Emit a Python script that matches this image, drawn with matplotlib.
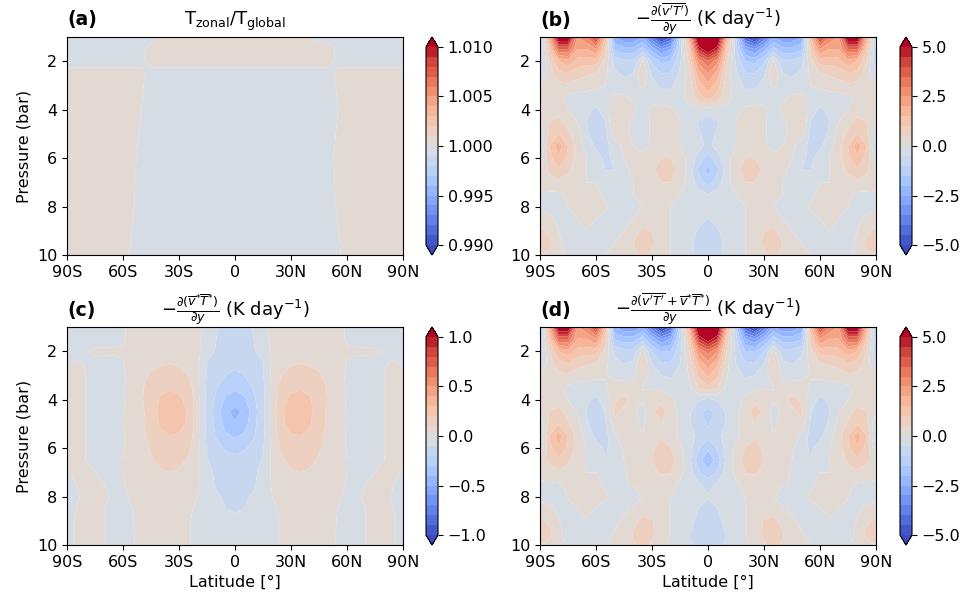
import numpy as np
import matplotlib
matplotlib.use('Agg')
import matplotlib.pyplot as plt
from matplotlib.ticker import FormatStrFormatter

# grid (latitude in degrees, pressure in bar)
lat = np.arange(-90, 91, 5)
pressure = np.array([1.0, 1.5, 2.0, 2.5, 3.0, 3.5, 4.0, 4.5, 5.0, 5.5,
                     6.0, 6.5, 7.0, 7.5, 8.0, 8.5, 9.0, 9.5, 10.0])
ratio_pressure = np.array([1.0, 1.5, 2.0, 2.5, 4.0, 6.0, 8.0, 10.0])

lat_ticks = [-90, -60, -30, 0, 30, 60, 90]
lat_labels = ['90S', '60S', '30S', '0', '30N', '60N', '90N']
p_ticks = [2, 4, 6, 8, 10]

# (a) T_zonal / T_global
t_ratio = np.array([
    [0.9996, 0.9996, 0.9996, 0.9996, 0.9996, 0.9996, 0.9996, 0.9996, 0.9996, 0.9996, 1.0002, 1.0004, 1.0004, 1.0004, 1.0004, 1.0004, 1.0004, 1.0004, 1.0004, 1.0004, 1.0004, 1.0004, 1.0004, 1.0004, 1.0004, 1.0004, 1.0002, 0.9996, 0.9996, 0.9996, 0.9996, 0.9996, 0.9996, 0.9996, 0.9996, 0.9996, 0.9996],
    [0.9996, 0.9996, 0.9996, 0.9996, 0.9996, 0.9996, 0.9996, 0.9996, 0.9998, 1.0004, 1.0004, 1.0004, 1.0004, 1.0004, 1.0004, 1.0004, 1.0004, 1.0004, 1.0004, 1.0004, 1.0004, 1.0004, 1.0004, 1.0004, 1.0004, 1.0004, 1.0004, 1.0004, 1.0004, 0.9998, 0.9996, 0.9996, 0.9996, 0.9996, 0.9996, 0.9996, 0.9996],
    [0.9996, 0.9996, 0.9996, 0.9996, 0.9996, 0.9996, 0.9996, 0.9996, 0.9998, 1.0004, 1.0004, 1.0004, 1.0004, 1.0004, 1.0004, 1.0004, 1.0004, 1.0004, 1.0004, 1.0004, 1.0004, 1.0004, 1.0004, 1.0004, 1.0004, 1.0004, 1.0004, 1.0004, 1.0004, 0.9998, 0.9996, 0.9996, 0.9996, 0.9996, 0.9996, 0.9996, 0.9996],
    [1.0004, 1.0004, 1.0004, 1.0004, 1.0004, 1.0004, 1.0004, 1.0004, 1.0002, 0.9996, 0.9996, 0.9996, 0.9996, 0.9996, 0.9996, 0.9996, 0.9996, 0.9996, 0.9996, 0.9996, 0.9996, 0.9996, 0.9996, 0.9996, 0.9996, 0.9996, 0.9996, 0.9996, 0.9996, 1.0002, 1.0004, 1.0004, 1.0004, 1.0004, 1.0004, 1.0004, 1.0004],
    [1.0004, 1.0004, 1.0004, 1.0004, 1.0004, 1.0004, 1.0004, 1.0004, 0.99998, 0.9996, 0.9996, 0.9996, 0.9996, 0.9996, 0.9996, 0.9996, 0.9996, 0.9996, 0.9996, 0.9996, 0.9996, 0.9996, 0.9996, 0.9996, 0.9996, 0.9996, 0.9996, 0.9996, 0.9996, 0.99998, 1.0004, 1.0004, 1.0004, 1.0004, 1.0004, 1.0004, 1.0004],
    [1.0004, 1.0004, 1.0004, 1.0004, 1.0004, 1.0004, 1.0004, 1.0003, 0.9996, 0.9996, 0.9996, 0.9996, 0.9996, 0.9996, 0.9996, 0.9996, 0.9996, 0.9996, 0.9996, 0.9996, 0.9996, 0.9996, 0.9996, 0.9996, 0.9996, 0.9996, 0.9996, 0.9996, 0.9996, 1.0003, 1.0004, 1.0004, 1.0004, 1.0004, 1.0004, 1.0004, 1.0004],
    [1.0004, 1.0004, 1.0004, 1.0004, 1.0004, 1.0004, 1.0004, 1.0001, 0.9996, 0.9996, 0.9996, 0.9996, 0.9996, 0.9996, 0.9996, 0.9996, 0.9996, 0.9996, 0.9996, 0.9996, 0.9996, 0.9996, 0.9996, 0.9996, 0.9996, 0.9996, 0.9996, 0.9996, 0.9996, 1.0001, 1.0004, 1.0004, 1.0004, 1.0004, 1.0004, 1.0004, 1.0004],
    [1.0004, 1.0004, 1.0004, 1.0004, 1.0004, 1.0004, 1.0004, 0.9998, 0.9996, 0.9996, 0.9996, 0.9996, 0.9996, 0.9996, 0.9996, 0.9996, 0.9996, 0.9996, 0.9996, 0.9996, 0.9996, 0.9996, 0.9996, 0.9996, 0.9996, 0.9996, 0.9996, 0.9996, 0.9996, 0.9998, 1.0004, 1.0004, 1.0004, 1.0004, 1.0004, 1.0004, 1.0004],
])

# (b) eddy heating -d(v'T')/dy, K/day
eddy = np.array([
    [-1.5, 2, 6, 6, 2.5, 3, 4.5, 1.5, -2.5, -3, -3, -2.5, -4, -5.5, -4.5, -1, 2, 6.5, 7.5, 6.5, 2, -1, -4.5, -5.5, -4, -2.5, -3, -3, -2.5, 1.5, 4.5, 3, 2.5, 6, 6, 2, -1.5],
    [-1, 1, 3.5, 3.5, 2, 2, 2.5, 0.8, -1.6, -1.8, -1.8, -1.3, -2.2, -3, -2.5, -0.8, 1.0, 4.6, 5.6, 4.6, 1.0, -0.8, -2.5, -3, -2.2, -1.3, -1.8, -1.8, -1.6, 0.8, 2.5, 2, 2, 3.5, 3.5, 1, -1],
    [-0.8, 0.5, 1.5, 1.8, 1.3, 1.2, 1.2, 0.3, -0.7, -0.9, -0.9, 0.1, -1.1, -1.6, -1.5, -0.6, 0.6, 2.7, 3.4, 2.7, 0.6, -0.6, -1.5, -1.6, -1.1, 0.1, -0.9, -0.9, -0.7, 0.3, 1.2, 1.2, 1.3, 1.8, 1.5, 0.5, -0.8],
    [-0.5, 0.2, 0.8, 1.0, 0.7, 0.6, 0.5, 0.1, -0.4, -0.6, -0.5, 0.6, -0.6, -1.0, -1.0, -0.4, 0.3, 1.8, 2.5, 1.8, 0.3, -0.4, -1.0, -1.0, -0.6, 0.6, -0.5, -0.6, -0.4, 0.1, 0.5, 0.6, 0.7, 1.0, 0.8, 0.2, -0.5],
    [0.1, 0.3, 0.4, 0.4, 0.3, 0.2, 0.1, 0.0, -0.2, -0.3, -0.2, 0.1, -0.3, -0.6, -0.6, -0.2, 0.2, 1.3, 1.8, 1.3, 0.2, -0.2, -0.6, -0.6, -0.3, 0.1, -0.2, -0.3, -0.2, 0.0, 0.1, 0.2, 0.3, 0.4, 0.4, 0.3, 0.1],
    [0.2, 0.2, 0.1, -0.1, -0.2, -0.2, -0.2, -0.1, 0.1, 0.1, -0.1, -0.2, -0.2, -0.3, -0.3, -0.1, 0.1, 0.8, 1.2, 0.8, 0.1, -0.1, -0.3, -0.3, -0.2, -0.2, -0.1, 0.1, 0.1, -0.1, -0.2, -0.2, -0.2, -0.1, 0.1, 0.2, 0.2],
    [0.2, 0.3, 0.2, 0.0, -0.2, -0.4, -0.6, -0.3, 0.3, 0.5, 0.1, -0.2, 0.1, 0.2, 0.1, -0.1, -0.1, -0.1, -0.25, -0.1, -0.1, -0.1, 0.1, 0.2, 0.1, -0.2, 0.1, 0.5, 0.3, -0.3, -0.6, -0.4, -0.2, 0.0, 0.2, 0.3, 0.2],
    [0.0, 0.5, 0.7, 0.3, 0.0, -0.5, -0.8, -0.5, 0.6, 0.2, -0.1, -0.55, 0.2, 0.55, 0.2, 0.0, -0.2, -0.55, -0.7, -0.55, -0.2, 0.0, 0.2, 0.55, 0.2, -0.55, -0.1, 0.2, 0.6, -0.5, -0.8, -0.5, 0.0, 0.3, 0.7, 0.5, 0.0],
    [-0.4, 0.6, 1.0, 0.6, 0.2, -0.4, -0.8, -0.6, 0.2, 0.1, -0.1, -0.3, 0.1, 0.3, 0.2, 0.0, -0.2, -0.45, -0.65, -0.45, -0.2, 0.0, 0.2, 0.3, 0.1, -0.3, -0.1, 0.1, 0.2, -0.6, -0.8, -0.4, 0.2, 0.6, 1.0, 0.6, -0.4],
    [-0.8, 1.0, 1.8, 1.0, 0.3, -0.2, -0.6, -0.7, -0.2, 0.1, 0.0, -0.2, 0.1, 0.3, 0.2, 0.0, -0.1, -0.35, -0.6, -0.35, -0.1, 0.0, 0.2, 0.3, 0.1, -0.2, 0.0, 0.1, -0.2, -0.7, -0.6, -0.2, 0.3, 1.0, 1.8, 1.0, -0.8],
    [-0.3, 0.8, 1.4, 0.9, 0.3, 0.0, -0.3, -0.6, -0.4, 0.0, 0.1, 0.2, 0.3, 0.5, 0.5, 0.2, -0.15, -0.7, -1.2, -0.7, -0.15, 0.2, 0.5, 0.5, 0.3, 0.2, 0.1, 0.0, -0.4, -0.6, -0.3, 0.0, 0.3, 0.9, 1.4, 0.8, -0.3],
    [0.1, 0.6, 0.9, 0.6, 0.2, 0.0, -0.1, -0.5, -0.5, -0.1, 0.1, 0.2, 0.4, 0.8, 0.8, 0.3, -0.2, -1.1, -1.7, -1.1, -0.2, 0.3, 0.8, 0.8, 0.4, 0.2, 0.1, -0.1, -0.5, -0.5, -0.1, 0.0, 0.2, 0.6, 0.9, 0.6, 0.1],
    [0.2, 0.3, 0.4, 0.3, 0.1, 0.0, 0.0, -0.3, -0.3, -0.1, 0.0, 0.1, 0.3, 0.5, 0.5, 0.2, -0.15, -0.75, -1.2, -0.75, -0.15, 0.2, 0.5, 0.5, 0.3, 0.1, 0.0, -0.1, -0.3, -0.3, 0.0, 0.0, 0.1, 0.3, 0.4, 0.3, 0.2],
    [-0.1, -0.1, -0.1, 0.1, 0.2, 0.2, 0.1, -0.1, -0.2, -0.1, 0.0, 0.1, 0.2, 0.2, 0.1, 0.0, -0.1, -0.3, -0.5, -0.3, -0.1, 0.0, 0.1, 0.2, 0.2, 0.1, 0.0, -0.1, -0.2, -0.1, 0.1, 0.2, 0.2, 0.1, -0.1, -0.1, -0.1],
    [-0.1, -0.2, -0.2, 0.0, 0.2, 0.2, 0.15, 0.05, -0.1, -0.2, -0.55, 0.0, 0.1, 0.1, 0.0, -0.1, -0.1, -0.2, -0.35, -0.2, -0.1, -0.1, 0.0, 0.1, 0.1, 0.0, -0.55, -0.2, -0.1, 0.05, 0.15, 0.2, 0.2, 0.0, -0.2, -0.2, -0.1],
    [0.2, 0.1, -0.1, -0.1, 0.0, 0.1, 0.0, -0.1, -0.1, -0.1, 0.0, 0.2, 0.2, 0.1, 0.0, -0.1, -0.2, -0.4, -0.5, -0.4, -0.2, -0.1, 0.0, 0.1, 0.2, 0.2, 0.0, -0.1, -0.1, -0.1, 0.0, 0.1, 0.0, -0.1, -0.1, 0.1, 0.2],
    [0.6, 0.4, 0.0, -0.2, -0.1, 0.0, -0.1, -0.2, -0.1, 0.0, 0.3, 0.6, 0.5, 0.2, 0.0, -0.2, -0.3, -0.55, -0.7, -0.55, -0.3, -0.2, 0.0, 0.2, 0.5, 0.6, 0.3, 0.0, -0.1, -0.2, -0.1, 0.0, -0.1, -0.2, 0.0, 0.4, 0.6],
    [0.8, 0.6, 0.1, -0.2, -0.2, -0.1, -0.1, -0.1, 0.0, 0.2, 0.5, 0.8, 0.6, 0.2, 0.0, -0.2, -0.4, -0.65, -0.8, -0.65, -0.4, -0.2, 0.0, 0.2, 0.6, 0.8, 0.5, 0.2, 0.0, -0.1, -0.1, -0.1, -0.2, -0.2, 0.1, 0.6, 0.8],
    [0.5, 0.4, 0.1, -0.1, -0.1, -0.1, 0.0, 0.0, 0.1, 0.3, 0.4, 0.6, 0.4, 0.1, 0.0, -0.2, -0.4, -0.6, -0.75, -0.6, -0.4, -0.2, 0.0, 0.1, 0.4, 0.6, 0.4, 0.3, 0.1, 0.0, 0.0, -0.1, -0.1, -0.1, 0.1, 0.4, 0.5],
])

# (c) mean-flow heating -d(v* T*)/dy, K/day
mean = np.array([
    [-0.05, -0.05, -0.05, -0.05, -0.04, -0.03, -0.01, 0.03, 0.05, 0.05, 0.06, 0.06, 0.06, 0.05, 0.02, -0.03, -0.09, -0.13, -0.15, -0.13, -0.09, -0.03, 0.02, 0.05, 0.06, 0.06, 0.06, 0.05, 0.05, 0.03, -0.01, -0.03, -0.04, -0.05, -0.05, -0.05, -0.05],
    [-0.05, -0.05, -0.04, -0.03, -0.02, -0.02, -0.01, 0.03, 0.05, 0.06, 0.06, 0.07, 0.07, 0.05, 0.02, -0.04, -0.10, -0.14, -0.17, -0.14, -0.10, -0.04, 0.02, 0.05, 0.07, 0.07, 0.06, 0.06, 0.05, 0.03, -0.01, -0.02, -0.02, -0.03, -0.04, -0.05, -0.05],
    [-0.03, -0.02, -0.005, 0.01, 0.01, 0.01, 0.01, 0.03, 0.06, 0.07, 0.07, 0.08, 0.08, 0.06, 0.02, -0.05, -0.11, -0.16, -0.18, -0.16, -0.11, -0.05, 0.02, 0.06, 0.08, 0.08, 0.07, 0.07, 0.06, 0.03, 0.01, 0.01, 0.01, 0.01, -0.005, -0.02, -0.03],
    [-0.01, 0.01, -0.005, -0.01, -0.02, -0.02, -0.005, 0.03, 0.06, 0.08, 0.09, 0.10, 0.09, 0.07, 0.02, -0.11, -0.15, -0.17, -0.18, -0.17, -0.15, -0.11, 0.02, 0.07, 0.09, 0.10, 0.09, 0.08, 0.06, 0.03, -0.005, -0.02, -0.02, -0.01, -0.005, 0.01, -0.01],
    [0.01, 0.02, 0.0, -0.01, -0.02, -0.02, -0.01, 0.03, 0.08, 0.11, 0.13, 0.14, 0.13, 0.10, 0.03, -0.11, -0.16, -0.20, -0.22, -0.20, -0.16, -0.11, 0.03, 0.10, 0.13, 0.14, 0.13, 0.11, 0.08, 0.03, -0.01, -0.02, -0.02, -0.01, 0.0, 0.02, 0.01],
    [0.02, 0.02, 0.0, -0.01, -0.02, -0.02, -0.01, 0.04, 0.09, 0.14, 0.18, 0.19, 0.18, 0.14, 0.04, -0.12, -0.19, -0.25, -0.28, -0.25, -0.19, -0.12, 0.04, 0.14, 0.18, 0.19, 0.18, 0.14, 0.09, 0.04, -0.01, -0.02, -0.02, -0.01, 0.0, 0.02, 0.02],
    [0.02, 0.02, 0.0, -0.01, -0.02, -0.02, -0.01, 0.04, 0.09, 0.16, 0.21, 0.23, 0.22, 0.17, 0.04, -0.13, -0.22, -0.32, -0.36, -0.32, -0.22, -0.13, 0.04, 0.17, 0.22, 0.23, 0.21, 0.16, 0.09, 0.04, -0.01, -0.02, -0.02, -0.01, 0.0, 0.02, 0.02],
    [0.02, 0.02, 0.0, -0.01, -0.02, -0.02, -0.005, 0.04, 0.08, 0.15, 0.22, 0.25, 0.24, 0.19, 0.04, -0.13, -0.24, -0.38, -0.43, -0.38, -0.24, -0.13, 0.04, 0.19, 0.24, 0.25, 0.22, 0.15, 0.08, 0.04, -0.005, -0.02, -0.02, -0.01, 0.0, 0.02, 0.02],
    [0.02, 0.02, 0.0, -0.01, -0.02, -0.02, -0.005, 0.04, 0.08, 0.15, 0.21, 0.24, 0.23, 0.18, 0.04, -0.13, -0.23, -0.34, -0.39, -0.34, -0.23, -0.13, 0.04, 0.18, 0.23, 0.24, 0.21, 0.15, 0.08, 0.04, -0.005, -0.02, -0.02, -0.01, 0.0, 0.02, 0.02],
    [0.02, 0.02, 0.0, -0.01, -0.02, -0.02, -0.005, 0.03, 0.07, 0.13, 0.18, 0.20, 0.19, 0.15, 0.04, -0.12, -0.21, -0.28, -0.31, -0.28, -0.21, -0.12, 0.04, 0.15, 0.19, 0.20, 0.18, 0.13, 0.07, 0.03, -0.005, -0.02, -0.02, -0.01, 0.0, 0.02, 0.02],
    [0.02, 0.02, 0.0, -0.01, -0.02, -0.02, -0.005, 0.03, 0.06, 0.11, 0.15, 0.16, 0.15, 0.12, 0.03, -0.11, -0.17, -0.21, -0.22, -0.21, -0.17, -0.11, 0.03, 0.12, 0.15, 0.16, 0.15, 0.11, 0.06, 0.03, -0.005, -0.02, -0.02, -0.01, 0.0, 0.02, 0.02],
    [0.02, 0.02, 0.0, -0.01, -0.01, -0.01, 0.0, 0.03, 0.05, 0.09, 0.12, 0.13, 0.12, 0.09, 0.02, -0.09, -0.14, -0.17, -0.18, -0.17, -0.14, -0.09, 0.02, 0.09, 0.12, 0.13, 0.12, 0.09, 0.05, 0.03, 0.0, -0.01, -0.01, -0.01, 0.0, 0.02, 0.02],
    [-0.005, 0.01, 0.01, 0.0, -0.01, -0.01, 0.0, 0.03, 0.05, 0.07, 0.09, 0.10, 0.09, 0.07, 0.02, -0.07, -0.12, -0.15, -0.16, -0.15, -0.12, -0.07, 0.02, 0.07, 0.09, 0.10, 0.09, 0.07, 0.05, 0.03, 0.0, -0.01, -0.01, 0.0, 0.01, 0.01, -0.005],
    [-0.01, 0.0, 0.01, 0.01, 0.0, -0.01, -0.005, 0.02, 0.04, 0.06, 0.07, 0.08, 0.07, 0.05, 0.01, -0.06, -0.11, -0.13, -0.14, -0.13, -0.11, -0.06, 0.01, 0.05, 0.07, 0.08, 0.07, 0.06, 0.04, 0.02, -0.005, -0.01, 0.0, 0.01, 0.01, 0.0, -0.01],
    [-0.02, -0.005, 0.01, 0.02, 0.01, -0.01, -0.01, 0.01, 0.03, 0.05, 0.06, 0.06, 0.05, 0.04, 0.0, -0.05, -0.09, -0.11, -0.12, -0.11, -0.09, -0.05, 0.0, 0.04, 0.05, 0.06, 0.06, 0.05, 0.03, 0.01, -0.01, -0.01, 0.01, 0.02, 0.01, -0.005, -0.02],
    [-0.02, 0.0, 0.02, 0.02, 0.0, -0.02, -0.02, 0.0, 0.03, 0.04, 0.05, 0.05, 0.05, 0.02, -0.02, -0.05, -0.08, -0.10, -0.105, -0.10, -0.08, -0.05, -0.02, 0.02, 0.05, 0.05, 0.05, 0.04, 0.03, 0.0, -0.02, -0.02, 0.0, 0.02, 0.02, 0.0, -0.02],
    [-0.02, 0.005, 0.02, 0.02, 0.0, -0.02, -0.02, -0.005, 0.03, 0.04, 0.04, 0.05, 0.04, 0.01, -0.03, -0.05, -0.07, -0.08, -0.09, -0.08, -0.07, -0.05, -0.03, 0.01, 0.04, 0.05, 0.04, 0.04, 0.03, -0.005, -0.02, -0.02, 0.0, 0.02, 0.02, 0.005, -0.02],
    [-0.02, 0.005, 0.02, 0.02, 0.0, -0.02, -0.02, -0.005, 0.02, 0.03, 0.04, 0.04, 0.04, 0.01, -0.03, -0.04, -0.06, -0.07, -0.08, -0.07, -0.06, -0.04, -0.03, 0.01, 0.04, 0.04, 0.04, 0.03, 0.02, -0.005, -0.02, -0.02, 0.0, 0.02, 0.02, 0.005, -0.02],
    [-0.02, 0.005, 0.02, 0.02, 0.0, -0.02, -0.02, -0.005, 0.02, 0.03, 0.04, 0.04, 0.04, 0.01, -0.03, -0.03, -0.05, -0.06, -0.07, -0.06, -0.05, -0.03, -0.03, 0.01, 0.04, 0.04, 0.04, 0.03, 0.02, -0.005, -0.02, -0.02, 0.0, 0.02, 0.02, 0.005, -0.02],
])

# (d) total = eddy + mean
total = eddy + mean

W, H = 968, 598


def px_box(x0, y0, x1, y1):
    # pixel box (top-left origin) -> figure fraction
    return [x0 / W, 1 - y1 / H, (x1 - x0) / W, (y1 - y0) / H]


fig = plt.figure(figsize=(W / 100, H / 100), dpi=100)

panels = [
    # label, data, pressures, levels, ticks, title, axes box, cbar box
    ('(a)', t_ratio, ratio_pressure, np.linspace(0.99, 1.01, 21),
     [0.990, 0.995, 1.000, 1.005, 1.010],
     r'T$_{\rm zonal}$/T$_{\rm global}$',
     px_box(67, 37, 403, 255), px_box(426, 37, 438, 255)),
    ('(b)', eddy, pressure, np.linspace(-5, 5, 21), [-5, -2.5, 0, 2.5, 5],
     r"$-\frac{\partial(\overline{v^{\prime}T^{\prime}})}{\partial y}$ (K day$^{-1}$)",
     px_box(540, 37, 876, 255), px_box(900, 37, 912, 255)),
    ('(c)', mean, pressure, np.linspace(-1, 1, 21), [-1, -0.5, 0, 0.5, 1],
     r"$-\frac{\partial(\overline{v}^{*}\overline{T}^{*})}{\partial y}$ (K day$^{-1}$)",
     px_box(67, 327, 403, 545), px_box(426, 327, 438, 545)),
    ('(d)', total, pressure, np.linspace(-5, 5, 21), [-5, -2.5, 0, 2.5, 5],
     r"$-\frac{\partial(\overline{v^{\prime}T^{\prime}}+\overline{v}^{*}\overline{T}^{*})}{\partial y}$ (K day$^{-1}$)",
     px_box(540, 327, 876, 545), px_box(900, 327, 912, 545)),
]

for i, (label, field, pres, levels, ticks, title, box, cbox) in enumerate(panels):
    ax = fig.add_axes(box)
    cf = ax.contourf(lat, pres, field, levels=levels, cmap='coolwarm',
                     extend='both', antialiased=True)
    ax.set_xlim(-90, 90)
    ax.set_ylim(10, 1)
    ax.set_xticks(lat_ticks)
    ax.set_xticklabels(lat_labels)
    ax.set_yticks(p_ticks)
    ax.tick_params(labelsize=11.5)
    pad = 8.5 if i == 0 else 6
    ax.set_title(title, fontsize=13, pad=pad)
    ax.set_title(label, loc='left', fontsize=13.5, fontweight='bold', pad=pad)
    if i % 2 == 0:
        ax.set_ylabel('Pressure (bar)', fontsize=11.5)
    if i >= 2:
        ax.set_xlabel('Latitude [°]', fontsize=11.5)

    cax = fig.add_axes(cbox)
    cb = fig.colorbar(cf, cax=cax, ticks=ticks)
    if i == 0:
        cb.ax.yaxis.set_major_formatter(FormatStrFormatter('%.3f'))
    cb.ax.tick_params(labelsize=11.5)

fig.savefig('out.png', dpi=100)
